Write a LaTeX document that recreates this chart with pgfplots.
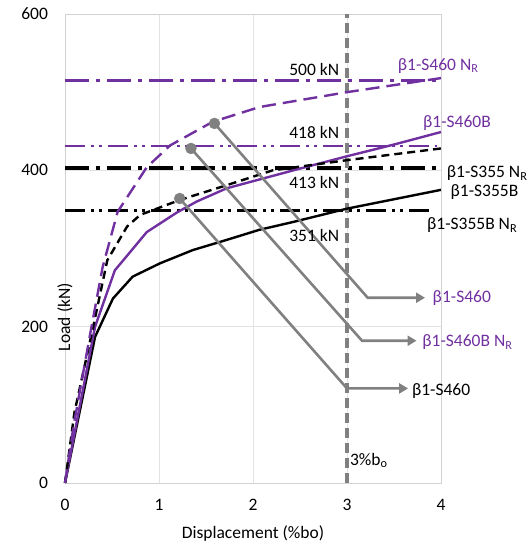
\documentclass[border=0pt]{standalone}
\usepackage{pgfplots}
\pgfplotsset{compat=1.18}
\usepackage{fontspec}
\setmainfont{Carlito}
\usetikzlibrary{arrows.meta}
\definecolor{pur}{RGB}{112,48,160}
\definecolor{gr}{RGB}{128,128,128}
\begin{document}
\fontsize{17.5}{21}\selectfont
\begin{tikzpicture}
\begin{axis}[
 scale only axis, width=376pt, height=469pt,
 xmin=0, xmax=4, ymin=0, ymax=600,
 xtick={0,1,2,3,4}, ytick={0,200,400,600},
 grid=major, grid style={gray!22, line width=0.9pt},
 axis line style={gray!35, line width=0.9pt},
 major tick length=0pt,
 tick label style={font=\fontsize{17.5}{21}\selectfont},
 /pgf/number format/assume math mode=true,
 xticklabel style={yshift=-10pt},
 yticklabel style={xshift=-11pt},
 xlabel={Displacement (\%bo)}, ylabel={Load (kN)},
 label style={font=\fontsize{17.5}{21}\selectfont},
 xlabel style={at={(rel axis cs:0.5,0)}, anchor=center, yshift=-51pt},
 ylabel style={at={(rel axis cs:0,0.469)}, anchor=center, xshift=-54pt},
 clip=false,
]
\coordinate (O) at (axis cs:0,0);
% N_R lines
\addplot[pur, line width=2.8pt, dash pattern=on 24pt off 7pt on 4pt off 7pt] coordinates {(0,515) (4,515)};
\addplot[pur, line width=2.8pt, dash pattern=on 20pt off 6pt on 3pt off 5pt on 3pt off 6pt] coordinates {(0,431) (3.96,431)};
\addplot[black, line width=3.2pt, dash pattern=on 24pt off 7pt on 4pt off 7pt] coordinates {(0,403) (4,403)};
\addplot[black, line width=3pt, dash pattern=on 20pt off 6pt on 3pt off 5pt on 3pt off 6pt] coordinates {(0,349) (3.92,349)};
% 3% line
\addplot[gr, line width=3.2pt, dash pattern=on 10pt off 5pt] coordinates {(3,0) (3,600)};
% curves
\addplot[black, line width=2.4pt] coordinates {(0,0) (0.32,187) (0.51,236) (0.72,264) (1.01,281) (1.36,298) (1.72,311) (2.07,324) (2.43,334) (3.0,351) (3.5,363) (4.0,375)};
\addplot[pur, line width=2.4pt] coordinates {(0,0) (0.32,200) (0.53,272) (0.87,321) (1.19,346) (1.4,360) (1.72,377) (2.43,400) (3.0,418) (3.5,433) (4.0,449)};
\addplot[black, line width=2.4pt, dash pattern=on 8pt off 5pt] coordinates {(0,0) (0.1,90) (0.3,200) (0.45,285) (0.66,328) (0.8,343) (1.22,362) (1.72,381) (2.21,400) (3.0,413) (4.0,428)};
\addplot[pur, line width=2.4pt, dash pattern=on 14pt off 7pt] coordinates {(0,0) (0.09,72) (0.27,192) (0.40,276) (0.56,347) (0.87,404) (1.12,432) (1.57,462) (2.07,481) (3.0,500) (4.0,518)};
% annotations
\addplot[gr, line width=2.6pt, -{Triangle[length=9pt,width=10pt]}] coordinates {(1.59,460) (3.22,237) (3.83,237)};
\addplot[gr, line width=2.6pt, -{Triangle[length=9pt,width=10pt]}] coordinates {(1.34,428) (3.16,182) (3.74,182)};
\addplot[gr, line width=2.6pt, -{Triangle[length=9pt,width=10pt]}] coordinates {(1.22,364) (3.0,121) (3.65,121)};
\addplot[only marks, mark=*, mark size=5.5pt, gr] coordinates {(1.59,460) (1.34,428) (1.22,364)};
% texts
\node[anchor=east] at (axis cs:2.98,529) {500 kN};
\node[anchor=east] at (axis cs:2.98,449) {418 kN};
\node[anchor=east] at (axis cs:2.98,384) {413 kN};
\node[anchor=east] at (axis cs:2.98,317) {351 kN};
\node[pur, anchor=center] at (axis cs:3.97,534) {β1-S460 N\textsubscript{R}};
\node[pur, anchor=center] at (axis cs:4.17,460) {β1-S460B};
\node[anchor=west, inner sep=0pt] at (axis cs:4.06,396) {β1-S355 N\textsubscript{R}};
\node[anchor=west, inner sep=0pt] at (axis cs:4.1,372) {β1-S355B};
\node[anchor=west, inner sep=0pt] at (axis cs:3.85,330) {β1-S355B N\textsubscript{R}};
\node[pur, anchor=west, inner sep=0pt] at (axis cs:3.91,237) {β1-S460};
\node[pur, anchor=west, inner sep=0pt] at (axis cs:3.80,180) {β1-S460B N\textsubscript{R}};
\node[anchor=west, inner sep=0pt] at (axis cs:3.69,118) {β1-S460};
\node[anchor=west, inner sep=0pt] at (axis cs:3.03,29) {3\%b\textsubscript{o}};
\end{axis}
\pgfresetboundingbox
\path ([shift={(-65pt,-62pt)}]O) rectangle ([shift={(465pt,483pt)}]O);
\end{tikzpicture}
\end{document}
